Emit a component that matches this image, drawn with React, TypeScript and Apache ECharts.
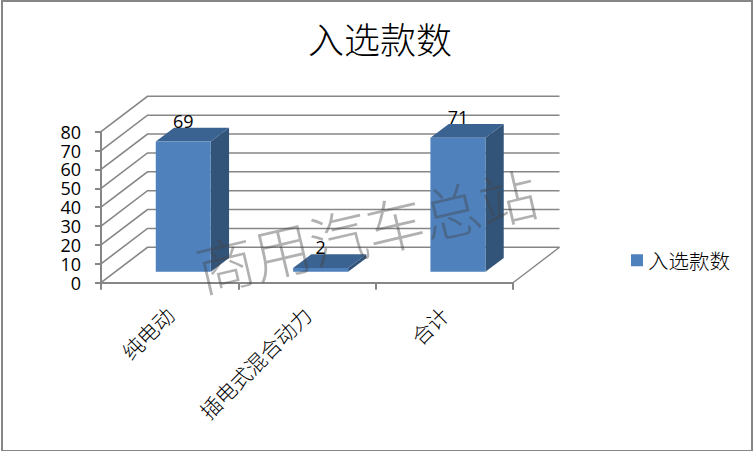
import React, { useEffect, useRef } from "react";
import * as echarts from "echarts";

const titleText = "入选款数";
const seriesName = "入选款数";
const watermark = "商用汽车总站";
const categories = ["纯电动", "插电式混合动力", "合计"];
const values = [69, 2, 71];
const yTicks = [0, 10, 20, 30, 40, 50, 60, 70, 80];

const CJK = '"Noto Sans CJK SC", "Noto Sans", sans-serif';
const LINE = "#868686";
const WALL_DX = 46.5;
const WALL_DY = -35.4;
const BAR_OFF_X = 13.6;
const BAR_OFF_Y = -11;
const BAR_W = 55;
const DEPTH_X = 18.3;
const DEPTH_Y = -13.7;

export default function App() {
  const ref = useRef<HTMLDivElement>(null);
  useEffect(() => {
    document.body.style.margin = "0";
    const chart = echarts.init(ref.current!, undefined, { renderer: "svg" });
    chart.setOption({
      animation: false,
      backgroundColor: "#fff",
      title: {
        text: titleText,
        left: 375,
        top: 15,
        textAlign: "center",
        textStyle: { fontFamily: CJK, fontSize: 36, fontWeight: 300, color: "#000" },
      },
      legend: {
        data: [{ name: seriesName, icon: "rect" }],
        left: 626,
        top: 245,
        itemWidth: 12,
        itemHeight: 12,
        itemGap: 5,
        textStyle: { fontFamily: CJK, fontSize: 20.5, fontWeight: 300, color: "#000", padding: [0, 0, 0, 0] },
      },
      grid: { left: 101, top: 131.7, width: 412, height: 151 },
      xAxis: {
        type: "category",
        data: categories,
        axisLine: { show: true, lineStyle: { color: LINE, width: 2 } },
        axisTick: { show: true, length: 7, alignWithLabel: false, lineStyle: { color: LINE, width: 2 } },
        axisLabel: {
          rotate: 45,
          margin: 28,
          interval: 0,
          fontFamily: CJK,
          fontSize: 21,
          fontWeight: 300,
          color: "#000",
        },
      },
      yAxis: {
        type: "value",
        min: 0,
        max: 80,
        interval: 10,
        splitLine: { show: false },
        axisLine: { show: true, lineStyle: { color: LINE, width: 2 } },
        axisTick: { show: true, length: 6, lineStyle: { color: LINE, width: 2 } },
        axisLabel: { margin: 20, lineHeight: 18, fontFamily: '"Open Sans", sans-serif', fontSize: 18, color: "#000" },
      },
      series: [
        {
          type: "custom",
          coordinateSystem: "cartesian2d",
          silent: true,
          z: 1,
          data: yTicks.map((t) => [0, t]),
          renderItem: (params: any, api: any) => {
            const p = api.coord([0, api.value(1)]);
            const cs = params.coordSys;
            const x0 = cs.x;
            const x1 = cs.x + cs.width;
            const y = p[1];
            const lineStyle = { stroke: LINE, lineWidth: 1.6, fill: "none" };
            const children: any[] = [
              {
                type: "polyline",
                shape: { points: [[x0, y], [x0 + WALL_DX, y + WALL_DY], [x1 + WALL_DX, y + WALL_DY]] },
                style: lineStyle,
              },
            ];
            if (api.value(1) === 0) {
              children.push({
                type: "line",
                shape: { x1, y1: y, x2: x1 + WALL_DX, y2: y + WALL_DY },
                style: { stroke: LINE, lineWidth: 1.4 },
              });
            }
            return { type: "group", children };
          },
        },
        {
          type: "custom",
          name: seriesName,
          coordinateSystem: "cartesian2d",
          z: 3,
          itemStyle: { color: "#4F81BD" },
          data: values.map((v, i) => [i, v]),
          renderItem: (_: any, api: any) => {
            const top = api.coord([api.value(0), api.value(1)]);
            const base = api.coord([api.value(0), 0]);
            const l = top[0] + BAR_OFF_X - BAR_W / 2;
            const r = l + BAR_W;
            const t = top[1] + BAR_OFF_Y;
            const b = base[1] + BAR_OFF_Y;
            return {
              type: "group",
              children: [
                {
                  type: "polygon",
                  shape: { points: [[r, t], [r + DEPTH_X, t + DEPTH_Y], [r + DEPTH_X, b + DEPTH_Y], [r, b]] },
                  style: { fill: "#325479" },
                },
                {
                  type: "polygon",
                  shape: { points: [[l, t], [l + DEPTH_X, t + DEPTH_Y], [r + DEPTH_X, t + DEPTH_Y], [r, t]] },
                  style: { fill: "#3B6391" },
                },
                {
                  type: "rect",
                  shape: { x: l, y: t, width: BAR_W, height: b - t },
                  style: { fill: "#4F81BD" },
                },
                {
                  type: "text",
                  z2: 5,
                  style: {
                    text: String(api.value(1)),
                    x: (l + r) / 2,
                    y: t - 20.5,
                    align: "center",
                    verticalAlign: "middle",
                    font: '18px "Open Sans", sans-serif',
                    fill: "#000",
                  },
                },
              ],
            };
          },
        },
      ],
      graphic: [
        {
          type: "rect",
          z: -10,
          silent: true,
          shape: { x: 2, y: 1, width: 750, height: 450 },
          style: { fill: "none", stroke: "#868686", lineWidth: 2 },
        },
        {
          type: "text",
          z: 100,
          silent: true,
          x: 366,
          y: 229,
          rotation: 0.23,
          style: {
            text: watermark,
            font: '300 58px "Noto Sans CJK SC", sans-serif',
            fill: "rgba(70,70,70,0.42)",
            align: "center",
            verticalAlign: "middle",
          },
        },
      ],
    });
    return () => chart.dispose();
  }, []);
  return <div ref={ref} style={{ width: 753, height: 451 }} />;
}
